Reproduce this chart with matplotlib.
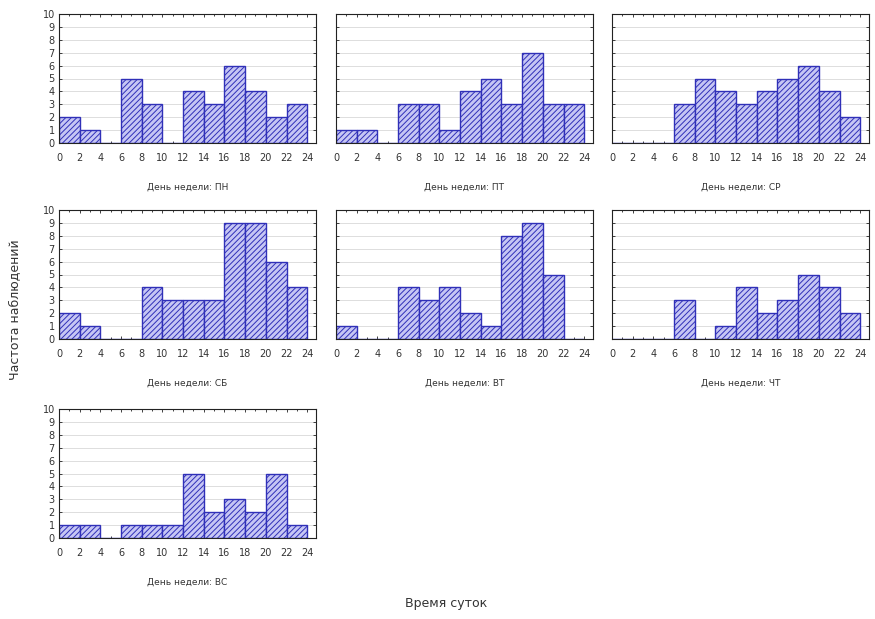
import numpy as np
import matplotlib.pyplot as plt

# bin edges for time of day, hours
edges = np.arange(0, 26, 2)

days = ["ПН", "ПТ", "СР", "СБ", "ВТ", "ЧТ", "ВС"]
counts_mon = [2, 1, 0, 5, 3, 0, 4, 3, 6, 4, 2, 3]
counts_fri = [1, 1, 0, 3, 3, 1, 4, 5, 3, 7, 3, 3]
counts_wed = [0, 0, 0, 3, 5, 4, 3, 4, 5, 6, 4, 2]
counts_sat = [2, 1, 0, 0, 4, 3, 3, 3, 9, 9, 6, 4]
counts_tue = [1, 0, 0, 4, 3, 4, 2, 1, 8, 9, 5, 0]
counts_thu = [0, 0, 0, 3, 0, 1, 4, 2, 3, 5, 4, 2]
counts_sun = [1, 1, 0, 1, 1, 1, 5, 2, 3, 2, 5, 1]
all_counts = [counts_mon, counts_fri, counts_wed, counts_sat,
              counts_tue, counts_thu, counts_sun]

W, H = 875, 619
fig = plt.figure(figsize=(W / 100, H / 100), dpi=100)
plt.rcParams['hatch.color'] = '#4040d0'
plt.rcParams['hatch.linewidth'] = 0.7

col_left = [59, 336, 612]
row_top = [14, 210, 409]
ax_w, ax_h = 257, 129
text_col = '#333333'


def make_axes(i):
    r, c = divmod(i, 3)
    rect = [col_left[c] / W, 1 - (row_top[r] + ax_h) / H, ax_w / W, ax_h / H]
    return fig.add_axes(rect), c


for i, (day, counts) in enumerate(zip(days, all_counts)):
    ax, c = make_axes(i)
    ax.set_axisbelow(True)
    ax.yaxis.grid(True, color='#d8d8d8', linewidth=0.6)
    ax.bar(edges[:-1], counts, width=2, align='edge', facecolor='#c6c6f4',
           edgecolor='#3030b8', linewidth=1.0, hatch='//////')
    ax.set_xlim(0, 24.85)
    ax.set_ylim(0, 10)
    ax.set_xticks(edges)
    ax.set_yticks(range(0, 11))
    ax.set_xticks(range(0, 25), minor=True)
    ax.tick_params(which='both', direction='in', top=True, right=True,
                   length=2.5, width=0.6, labelsize=7, colors='#222222',
                   labelcolor=text_col, pad=7)
    ax.tick_params(axis='y', pad=3)
    ax.tick_params(which='minor', length=1.5)
    if c != 0:
        ax.tick_params(labelleft=False)
    for sp in ax.spines.values():
        sp.set_color('#222222')
        sp.set_linewidth(0.8)
    ax.set_xlabel("День недели: " + day, fontsize=6.5, color=text_col,
                  labelpad=14)

fig.text(15 / W, 1 - 310 / H, "Частота наблюдений", rotation=90,
         ha='center', va='center', fontsize=9, color=text_col)
fig.text(446 / W, 1 - 604 / H, "Время суток", ha='center', va='center',
         fontsize=9, color=text_col)

fig.savefig("out.png", dpi=100)
